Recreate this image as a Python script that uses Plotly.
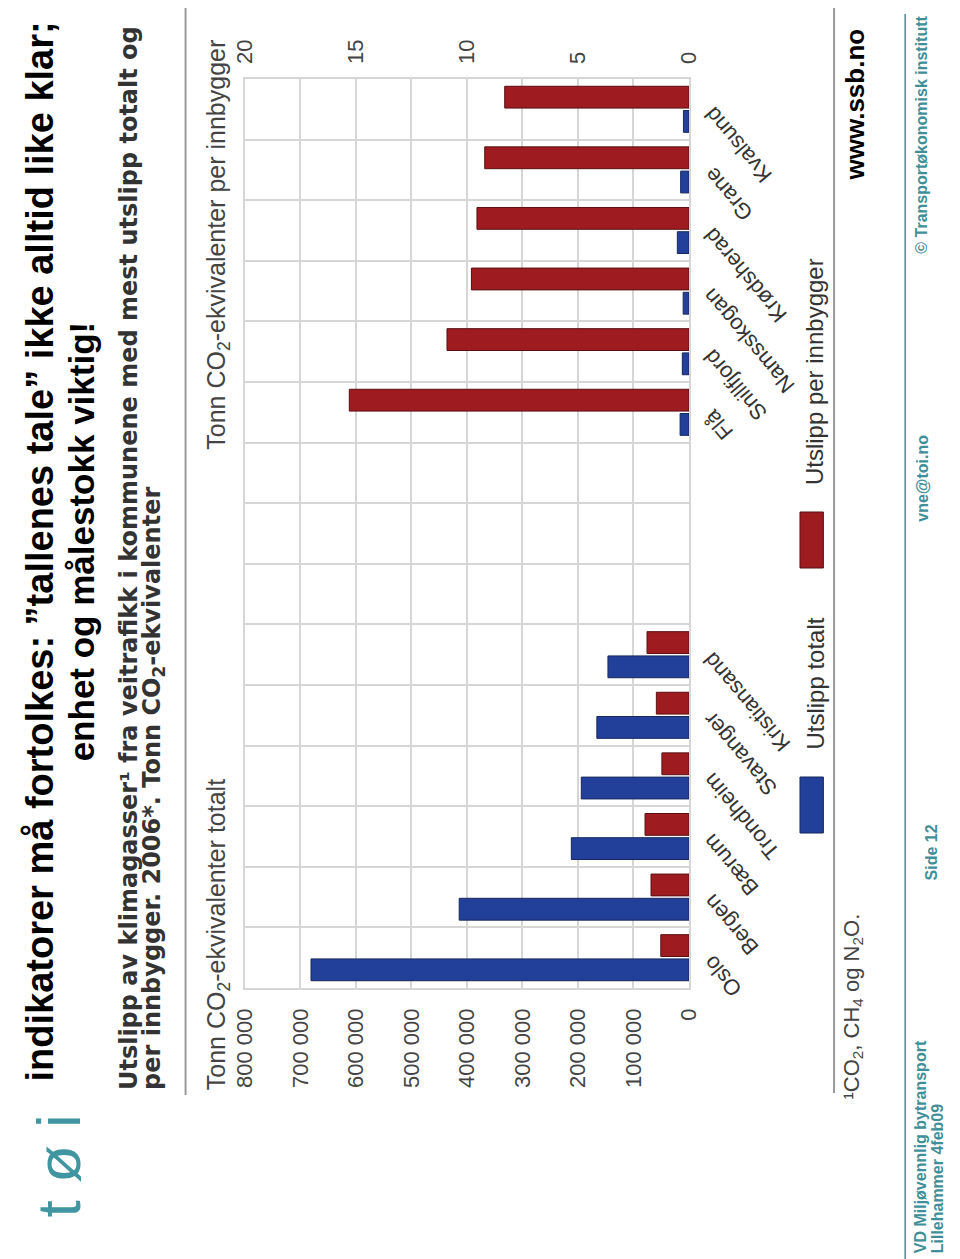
import plotly.graph_objects as go

# ---------------- data ----------------
municipalities = ["Oslo", "Bergen", "Bærum", "Trondheim", "Stavanger", "Kristiansand",
                  "", "", "",
                  "Flå", "Snillfjord", "Namsskogan", "Krødsherad", "Grane", "Kvalsund"]
total_emissions = [681000, 414000, 212000, 194000, 166000, 146000,
                   None, None, None,
                   16000, 12000, 10500, 21000, 15000, 10000]
per_capita = [1.27, 1.71, 1.98, 1.22, 1.47, 1.89,
              None, None, None,
              15.3, 10.9, 9.8, 9.55, 9.2, 8.3]
total_ticks = [0, 100000, 200000, 300000, 400000, 500000, 600000, 700000, 800000]
total_tick_labels = ["0", "100 000", "200 000", "300 000", "400 000",
                     "500 000", "600 000", "700 000", "800 000"]
per_capita_ticks = [0, 5, 10, 15, 20]
per_capita_tick_labels = ["0", "5", "10", "15", "20"]

# ---------------- layout helpers ----------------
OFF = 8
W, H = 960 - OFF, 1259 - OFF
def px(x):
    return (x - OFF) / W
def py(y):
    return 1 - (y - OFF) / H

positions = list(range(len(municipalities)))
BLUE = "#22409A"
RED = "#9E1B20"
GRID = "#D6D6D6"
TEAL = "#3F8F98"
FONT = "Liberation Sans, Arial, sans-serif"

fig = go.Figure()
fig.add_trace(go.Bar(
    x=total_emissions, y=positions, orientation="h",
    xaxis="x", yaxis="y", width=0.36, offset=-0.38,
    marker=dict(color=BLUE, line=dict(color="#17275E", width=1)),
    name="Utslipp totalt", showlegend=False,
))
fig.add_trace(go.Bar(
    x=per_capita, y=positions, orientation="h",
    xaxis="x2", yaxis="y", width=0.36, offset=0.02,
    marker=dict(color=RED, line=dict(color="#5A1013", width=1)),
    name="Utslipp per innbygger", showlegend=False,
))

dom_x = [px(238), px(694)]
tickfont = dict(family=FONT, size=22, color="#444444")
fig.update_layout(
    width=W, height=H,
    margin=dict(l=0, r=0, t=0, b=0),
    paper_bgcolor="white", plot_bgcolor="white",
    barmode="overlay",
    xaxis=dict(domain=dom_x, range=[800000, 0], tickvals=total_ticks,
               ticktext=total_tick_labels, tickangle=-90, tickfont=tickfont,
               showgrid=True, gridcolor=GRID, gridwidth=1.5, zeroline=False,
               showline=True, mirror=True, linecolor=GRID, linewidth=1.5,
               ticks="", ticklabelstandoff=10, anchor="y"),
    xaxis2=dict(overlaying="x", side="top", range=[20, 0], tickvals=per_capita_ticks,
                ticktext=per_capita_tick_labels, tickangle=-90, tickfont=tickfont,
                showgrid=False, zeroline=False, showline=False, ticks="",
                ticklabelstandoff=14, anchor="y"),
    yaxis=dict(domain=[py(988), py(79)], range=[-0.5, len(municipalities) - 0.5],
               tickvals=[p - 0.5 for p in positions] + [len(municipalities) - 0.5],
               showticklabels=False, showgrid=True, gridcolor=GRID, gridwidth=1.5,
               zeroline=False, showline=True, mirror=True, linecolor=GRID,
               linewidth=1.5, ticks=""),
)

ann = []
def paper_text(text, x, y, size, color="#000000", family=FONT, xanchor="center",
               yanchor="middle", angle=-90, bold=False):
    t = f"<b>{text}</b>" if bold else text
    ann.append(dict(text=t, x=px(x), y=py(y), xref="paper", yref="paper",
                    xanchor=xanchor, yanchor=yanchor, textangle=angle,
                    showarrow=False, font=dict(family=family, size=size, color=color)))

# slide title
paper_text("indikatorer må fortolkes: ”tallenes tale” ikke alltid like klar;",
           27, 552, 38, bold=True)
paper_text("enhet og målestokk viktig!", 71, 541, 35, bold=True)

# chart title
TFONT = "DejaVu Sans, Verdana, sans-serif"
paper_text("Utslipp av klimagasser¹ fra veitrafikk i kommunene med mest utslipp totalt og",
           119, 1092, 24, color="#333333", family=TFONT, yanchor="bottom", bold=True)
paper_text("per innbygger. 2006*. Tonn CO<sub>2</sub>-ekvivalenter",
           144, 1092, 24, color="#333333", family=TFONT, yanchor="bottom", bold=True)

# axis titles
paper_text("Tonn CO<sub>2</sub>-ekvivalenter totalt", 210, 1092, 25,
           color="#444444", yanchor="bottom")
paper_text("Tonn CO<sub>2</sub>-ekvivalenter per innbygger", 210, 38, 25,
           color="#444444", yanchor="top")

# category labels
for name, pos in zip(municipalities, positions):
    if name:
        ann.append(dict(text=name, x=0, y=pos, xref="x", yref="y",
                        xanchor="left", yanchor="top", textangle=-130,
                        xshift=7, yshift=10, showarrow=False,
                        font=dict(family=FONT, size=22, color="#333333")))

# legend
paper_text("Utslipp totalt", 823, 752, 24, color="#333333", yanchor="bottom")
paper_text("Utslipp per innbygger", 823, 487, 24, color="#333333", yanchor="bottom")

# footnote and source
paper_text("¹CO<sub>2</sub>, CH<sub>4</sub> og N<sub>2</sub>O.", 862, 1102, 22,
           color="#444444", yanchor="bottom")
paper_text("www.ssb.no", 864, 27, 26, yanchor="top", bold=True)

# footer
paper_text("© Transportøkonomisk institutt", 933, 14, 16, color=TEAL, yanchor="top", bold=True)
paper_text("vne@toi.no", 933, 478, 16, color=TEAL, bold=True)
paper_text("Side 12", 943, 852, 16, color=TEAL, bold=True)
paper_text("VD Miljøvennlig bytransport", 932, 1255, 16, color=TEAL, yanchor="bottom", bold=True)
paper_text("Lillehammer 4feb09", 949, 1255, 16, color=TEAL, yanchor="bottom", bold=True)

# logo
paper_text("t ø i", OFF, 1166, 62, color="#4096A0", xanchor="left")

shapes = [
    dict(type="line", xref="paper", yref="paper", x0=px(177), x1=px(177),
         y0=py(8), y1=py(1095), line=dict(color="#9A9A9A", width=2)),
    dict(type="line", xref="paper", yref="paper", x0=px(843), x1=px(843),
         y0=py(8), y1=py(1093), line=dict(color="#9A9A9A", width=2)),
    dict(type="line", xref="paper", yref="paper", x0=px(916), x1=px(916),
         y0=py(14), y1=py(1259), line=dict(color=TEAL, width=1.5)),
    dict(type="rect", xref="paper", yref="paper", x0=px(808), x1=px(832),
         y0=py(833), y1=py(777), fillcolor=BLUE, line=dict(color="#17275E", width=1)),
    dict(type="rect", xref="paper", yref="paper", x0=px(808), x1=px(832),
         y0=py(568), y1=py(512), fillcolor=RED, line=dict(color="#5A1013", width=1)),
]

fig.update_layout(annotations=ann, shapes=shapes)
fig.write_html("out.html")
